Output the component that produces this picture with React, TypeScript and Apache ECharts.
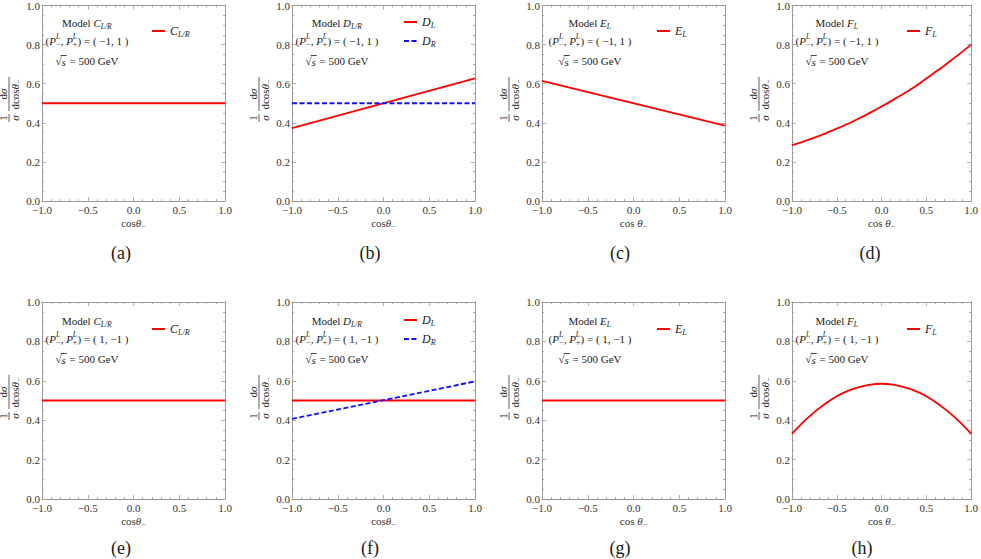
import React, { useEffect, useRef } from "react";
import * as echarts from "echarts";

// ---------- data ----------
const lineX = [-1, 1];
const curveX = [-1, -0.875, -0.75, -0.625, -0.5, -0.375, -0.25, -0.125, 0, 0.125, 0.25, 0.375, 0.5, 0.625, 0.75, 0.875, 1];

const a_CLR = [0.5, 0.5];
const b_DL = [0.373, 0.627];
const b_DR = [0.5, 0.5];
const c_EL = [0.614, 0.386];
const d_FL = [0.286, 0.304, 0.324, 0.346, 0.37, 0.395, 0.423, 0.452, 0.483, 0.516, 0.55, 0.586, 0.627, 0.667, 0.71, 0.754, 0.8];
const e_CLR = [0.5, 0.5];
const f_DL = [0.5, 0.5];
const f_DR = [0.407, 0.597];
const g_EL = [0.5, 0.5];
const h_FL = [0.331, 0.39, 0.441, 0.485, 0.522, 0.549, 0.568, 0.581, 0.585, 0.581, 0.568, 0.549, 0.522, 0.485, 0.441, 0.39, 0.331];

const captions = ["(a)", "(b)", "(c)", "(d)", "(e)", "(f)", "(g)", "(h)"];
const polarizations = ["( \u22121, 1 )", "( 1, \u22121 )"];
const energyText = " = 500 GeV";

const FONT = "Liberation Serif, Times New Roman, serif";
const RED = "#ff0000";
const BLUE = "#1010ff";
const FRAME = "#9a9a9a";
const INK = "#1a1a1a";

type S = { name: string; x: number[]; y: number[]; color: string; dashed?: boolean; smooth?: boolean };
type Panel = { model: [string, string]; series: S[]; spaced: boolean };

const panels: Panel[] = [
  { model: ["C", "L/R"], spaced: false, series: [{ name: "C_L/R", x: lineX, y: a_CLR, color: RED }] },
  {
    model: ["D", "L/R"],
    spaced: false,
    series: [
      { name: "D_L", x: lineX, y: b_DL, color: RED },
      { name: "D_R", x: lineX, y: b_DR, color: BLUE, dashed: true },
    ],
  },
  { model: ["E", "L"], spaced: true, series: [{ name: "E_L", x: lineX, y: c_EL, color: RED }] },
  { model: ["F", "L"], spaced: true, series: [{ name: "F_L", x: curveX, y: d_FL, color: RED, smooth: true }] },
  { model: ["C", "L/R"], spaced: false, series: [{ name: "C_L/R", x: lineX, y: e_CLR, color: RED }] },
  {
    model: ["D", "L/R"],
    spaced: false,
    series: [
      { name: "D_L", x: lineX, y: f_DL, color: RED },
      { name: "D_R", x: lineX, y: f_DR, color: BLUE, dashed: true },
    ],
  },
  { model: ["E", "L"], spaced: true, series: [{ name: "E_L", x: lineX, y: g_EL, color: RED }] },
  { model: ["F", "L"], spaced: true, series: [{ name: "F_L", x: curveX, y: h_FL, color: RED, smooth: true }] },
];

// ---------- layout ----------
const W = 183;
const H = 197;
const lefts = [42, 292, 542, 792];
const tops = [4, 302];
const annotDx = [45, 45, 48, 45];
const legendDx = [109, 111, 114, 114];
const captionX = [[121, 370, 620, 870], [121, 370, 620, 862]];
const captionY = [253, 548];

let ctx: CanvasRenderingContext2D | null = null;
function tw(text: string, fs: number, it: boolean) {
  if (!ctx) ctx = document.createElement("canvas").getContext("2d");
  if (!ctx) return text.length * fs * 0.5;
  ctx.font = `${it ? "italic " : ""}${fs}px ${FONT}`;
  return ctx.measureText(text).width;
}

type Seg =
  | { t: string; it?: boolean }
  | { sub: string }
  | { stack: [string, string] }
  | { sqrt: string };

const FS = 11;
const SFS = 7.5;

function txt(x: number, y: number, text: string, fs: number, it: boolean, fill = INK) {
  return {
    type: "text",
    x,
    y,
    silent: true,
    style: {
      text,
      fontSize: fs,
      fontFamily: FONT,
      fontStyle: it ? "italic" : "normal",
      fill,
      textAlign: "left",
      align: "left",
      textVerticalAlign: "middle",
      verticalAlign: "middle",
    },
  };
}

function segWidth(s: Seg, fs: number) {
  const sfs = fs * (SFS / FS);
  if ("t" in s) return tw(s.t, fs, !!s.it);
  if ("sub" in s) return tw(s.sub, sfs, true) + 0.5;
  if ("stack" in s) return Math.max(tw(s.stack[0], sfs, true), tw(s.stack[1], sfs, false)) + 0.5;
  return tw("\u221a", fs, false) + tw(s.sqrt, fs, true) + 1;
}

function layout(segs: Seg[], cx: number, cy: number, fs = FS) {
  const sfs = fs * (SFS / FS);
  const total = segs.reduce((a, s) => a + segWidth(s, fs), 0);
  let x = cx - total / 2;
  const out: any[] = [];
  for (const s of segs) {
    const w = segWidth(s, fs);
    if ("t" in s) out.push(txt(x, cy, s.t, fs, !!s.it));
    else if ("sub" in s) out.push(txt(x, cy + fs * 0.3, s.sub, sfs, true));
    else if ("stack" in s) {
      out.push(txt(x, cy - fs * 0.38, s.stack[0], sfs, true));
      out.push(txt(x, cy + fs * 0.32, s.stack[1], sfs, false));
    } else {
      const rw = tw("\u221a", fs, false);
      out.push(txt(x, cy, "\u221a", fs, false));
      out.push(txt(x + rw, cy + 0.5, s.sqrt, fs, true));
      out.push({
        type: "line",
        silent: true,
        shape: { x1: x + rw - 0.8, y1: cy - fs * 0.5, x2: x + w, y2: cy - fs * 0.5 },
        style: { stroke: INK, lineWidth: 0.8 },
      });
    }
    x += w;
  }
  return out;
}

function yLabelGroup(L: number, T: number) {
  const children: any[] = [];
  const f = 11;
  children.push(...layout([{ t: "1" }], -18, -6, f));
  children.push(...layout([{ t: "\u03c3", it: true }], -18, 6, f));
  children.push({ type: "line", silent: true, shape: { x1: -22, y1: 0, x2: -14, y2: 0 }, style: { stroke: INK, lineWidth: 0.7 } });
  children.push(...layout([{ t: "d" }, { t: "\u03c3", it: true }], 6, -6, f));
  children.push(...layout([{ t: "dcos" }, { t: "\u03b8", it: true }, { sub: "\u2212" }], 6, 6, f));
  children.push({ type: "line", silent: true, shape: { x1: -11, y1: 0, x2: 23, y2: 0 }, style: { stroke: INK, lineWidth: 0.7 } });
  return { type: "group", x: L - 33, y: T + 96, rotation: Math.PI / 2, silent: true, children };
}

const fmt = (v: number) => v.toFixed(1).replace("-", "\u2212");

function buildOption() {
  const grid: any[] = [];
  const xAxis: any[] = [];
  const yAxis: any[] = [];
  const series: any[] = [];
  const legend: any[] = [];
  const graphic: any[] = [];

  const tickCommon = {
    axisLine: { show: true, onZero: false, lineStyle: { color: FRAME, width: 1 } },
    axisTick: { show: true, inside: true, length: 4, lineStyle: { color: FRAME, width: 0.8 } },
    splitLine: { show: false },
  };
  const labelCommon = { fontSize: 11, fontFamily: FONT, color: "#333", showMinLabel: true, showMaxLabel: true, formatter: fmt };

  panels.forEach((p, i) => {
    const row = Math.floor(i / 4);
    const col = i % 4;
    const L = lefts[col];
    const T = tops[row];
    grid.push({ left: L, top: T, width: W, height: H, containLabel: false });
    const xName = p.spaced ? "{a|cos }{b|\u03b8}{s|\u2212}" : "{a|cos}{b|\u03b8}{s|\u2212}";
    xAxis.push({
      gridIndex: i,
      type: "value",
      min: -1,
      max: 1,
      interval: 0.5,
      position: "bottom",
      ...tickCommon,
      minorTick: { show: true, splitNumber: 5, length: 2, lineStyle: { color: FRAME, width: 0.8 } },
      axisLabel: { ...labelCommon, margin: 3 },
      name: xName,
      nameLocation: "middle",
      nameGap: 15,
      nameTextStyle: {
        rich: {
          a: { fontSize: 11, fontFamily: FONT, color: "#333", lineHeight: 14 },
          b: { fontSize: 11, fontFamily: FONT, fontStyle: "italic", color: "#333", lineHeight: 14 },
          s: { fontSize: 8, fontFamily: FONT, color: "#333", verticalAlign: "bottom", lineHeight: 9 },
        },
      },
    });
    xAxis.push({
      gridIndex: i,
      type: "value",
      min: -1,
      max: 1,
      interval: 0.5,
      position: "top",
      ...tickCommon,
      minorTick: { show: true, splitNumber: 5, length: 2, lineStyle: { color: FRAME, width: 0.8 } },
      axisLabel: { show: false },
    });
    yAxis.push({
      gridIndex: i,
      type: "value",
      min: 0,
      max: 1,
      interval: 0.2,
      position: "left",
      ...tickCommon,
      minorTick: { show: true, splitNumber: 4, length: 2, lineStyle: { color: FRAME, width: 0.8 } },
      axisLabel: { ...labelCommon, margin: 2 },
    });
    yAxis.push({
      gridIndex: i,
      type: "value",
      min: 0,
      max: 1,
      interval: 0.2,
      position: "right",
      ...tickCommon,
      minorTick: { show: true, splitNumber: 4, length: 2, lineStyle: { color: FRAME, width: 0.8 } },
      axisLabel: { show: false },
    });

    p.series.forEach((s) => {
      series.push({
        type: "line",
        name: s.name,
        xAxisIndex: 2 * i,
        yAxisIndex: 2 * i,
        data: s.x.map((x, k) => [x, s.y[k]]),
        symbol: "none",
        smooth: s.smooth ? 0.3 : false,
        lineStyle: { color: s.color, width: 1.8, type: s.dashed ? [5, 2.5] : "solid" },
        itemStyle: { color: s.color },
        z: s.dashed ? 4 : 3,
      });
    });

    const twoItems = p.series.length > 1;
    legend.push({
      data: p.series.map((s) => s.name),
      left: L + legendDx[col],
      top: twoItems ? T + 12 : T + 21,
      orient: "vertical",
      itemWidth: 13,
      itemHeight: 14,
      itemGap: 6,
      padding: 0,
      selectedMode: false,
      itemStyle: { opacity: 0 },
      formatter: (name: string) => {
        const [m, sb] = name.split("_");
        return `{i|${m}}{s|${sb}}`;
      },
      textStyle: {
        rich: {
          i: { fontSize: 12, fontFamily: FONT, fontStyle: "italic", color: INK, lineHeight: 14 },
          s: { fontSize: 8, fontFamily: FONT, fontStyle: "italic", color: INK, verticalAlign: "bottom", lineHeight: 9 },
        },
      },
    });

    const cx = L + annotDx[col];
    graphic.push(...layout([{ t: "Model " }, { t: p.model[0], it: true }, { sub: p.model[1] }], cx, T + 19));
    graphic.push(
      ...layout(
        [
          { t: "(" },
          { t: "P", it: true },
          { stack: ["L", "\u2212"] },
          { t: ", " },
          { t: "P", it: true },
          { stack: ["L", "+"] },
          { t: ") = " + polarizations[row] },
        ],
        cx,
        T + 37
      )
    );
    graphic.push(...layout([{ sqrt: "s" }, { t: energyText }], cx, T + 57));
    graphic.push(yLabelGroup(L, T));
    graphic.push({
      type: "text",
      x: captionX[row][col],
      y: captionY[row],
      silent: true,
      style: {
        text: captions[i],
        fontSize: 18,
        fontFamily: FONT,
        fill: INK,
        textAlign: "center",
        align: "center",
        textVerticalAlign: "middle",
        verticalAlign: "middle",
      },
    });
  });

  return {
    animation: false,
    backgroundColor: "#ffffff",
    grid,
    xAxis,
    yAxis,
    series,
    legend,
    graphic: { elements: graphic },
  };
}

export default function App() {
  const ref = useRef<HTMLDivElement>(null);
  useEffect(() => {
    if (!ref.current) return;
    const chart = echarts.init(ref.current, undefined, { renderer: "svg" });
    chart.setOption(buildOption() as any);
    return () => chart.dispose();
  }, []);
  return (
    <div
      ref={ref}
      style={{ position: "fixed", left: 0, top: 0, width: 981, height: 559, background: "#fff" }}
    />
  );
}
